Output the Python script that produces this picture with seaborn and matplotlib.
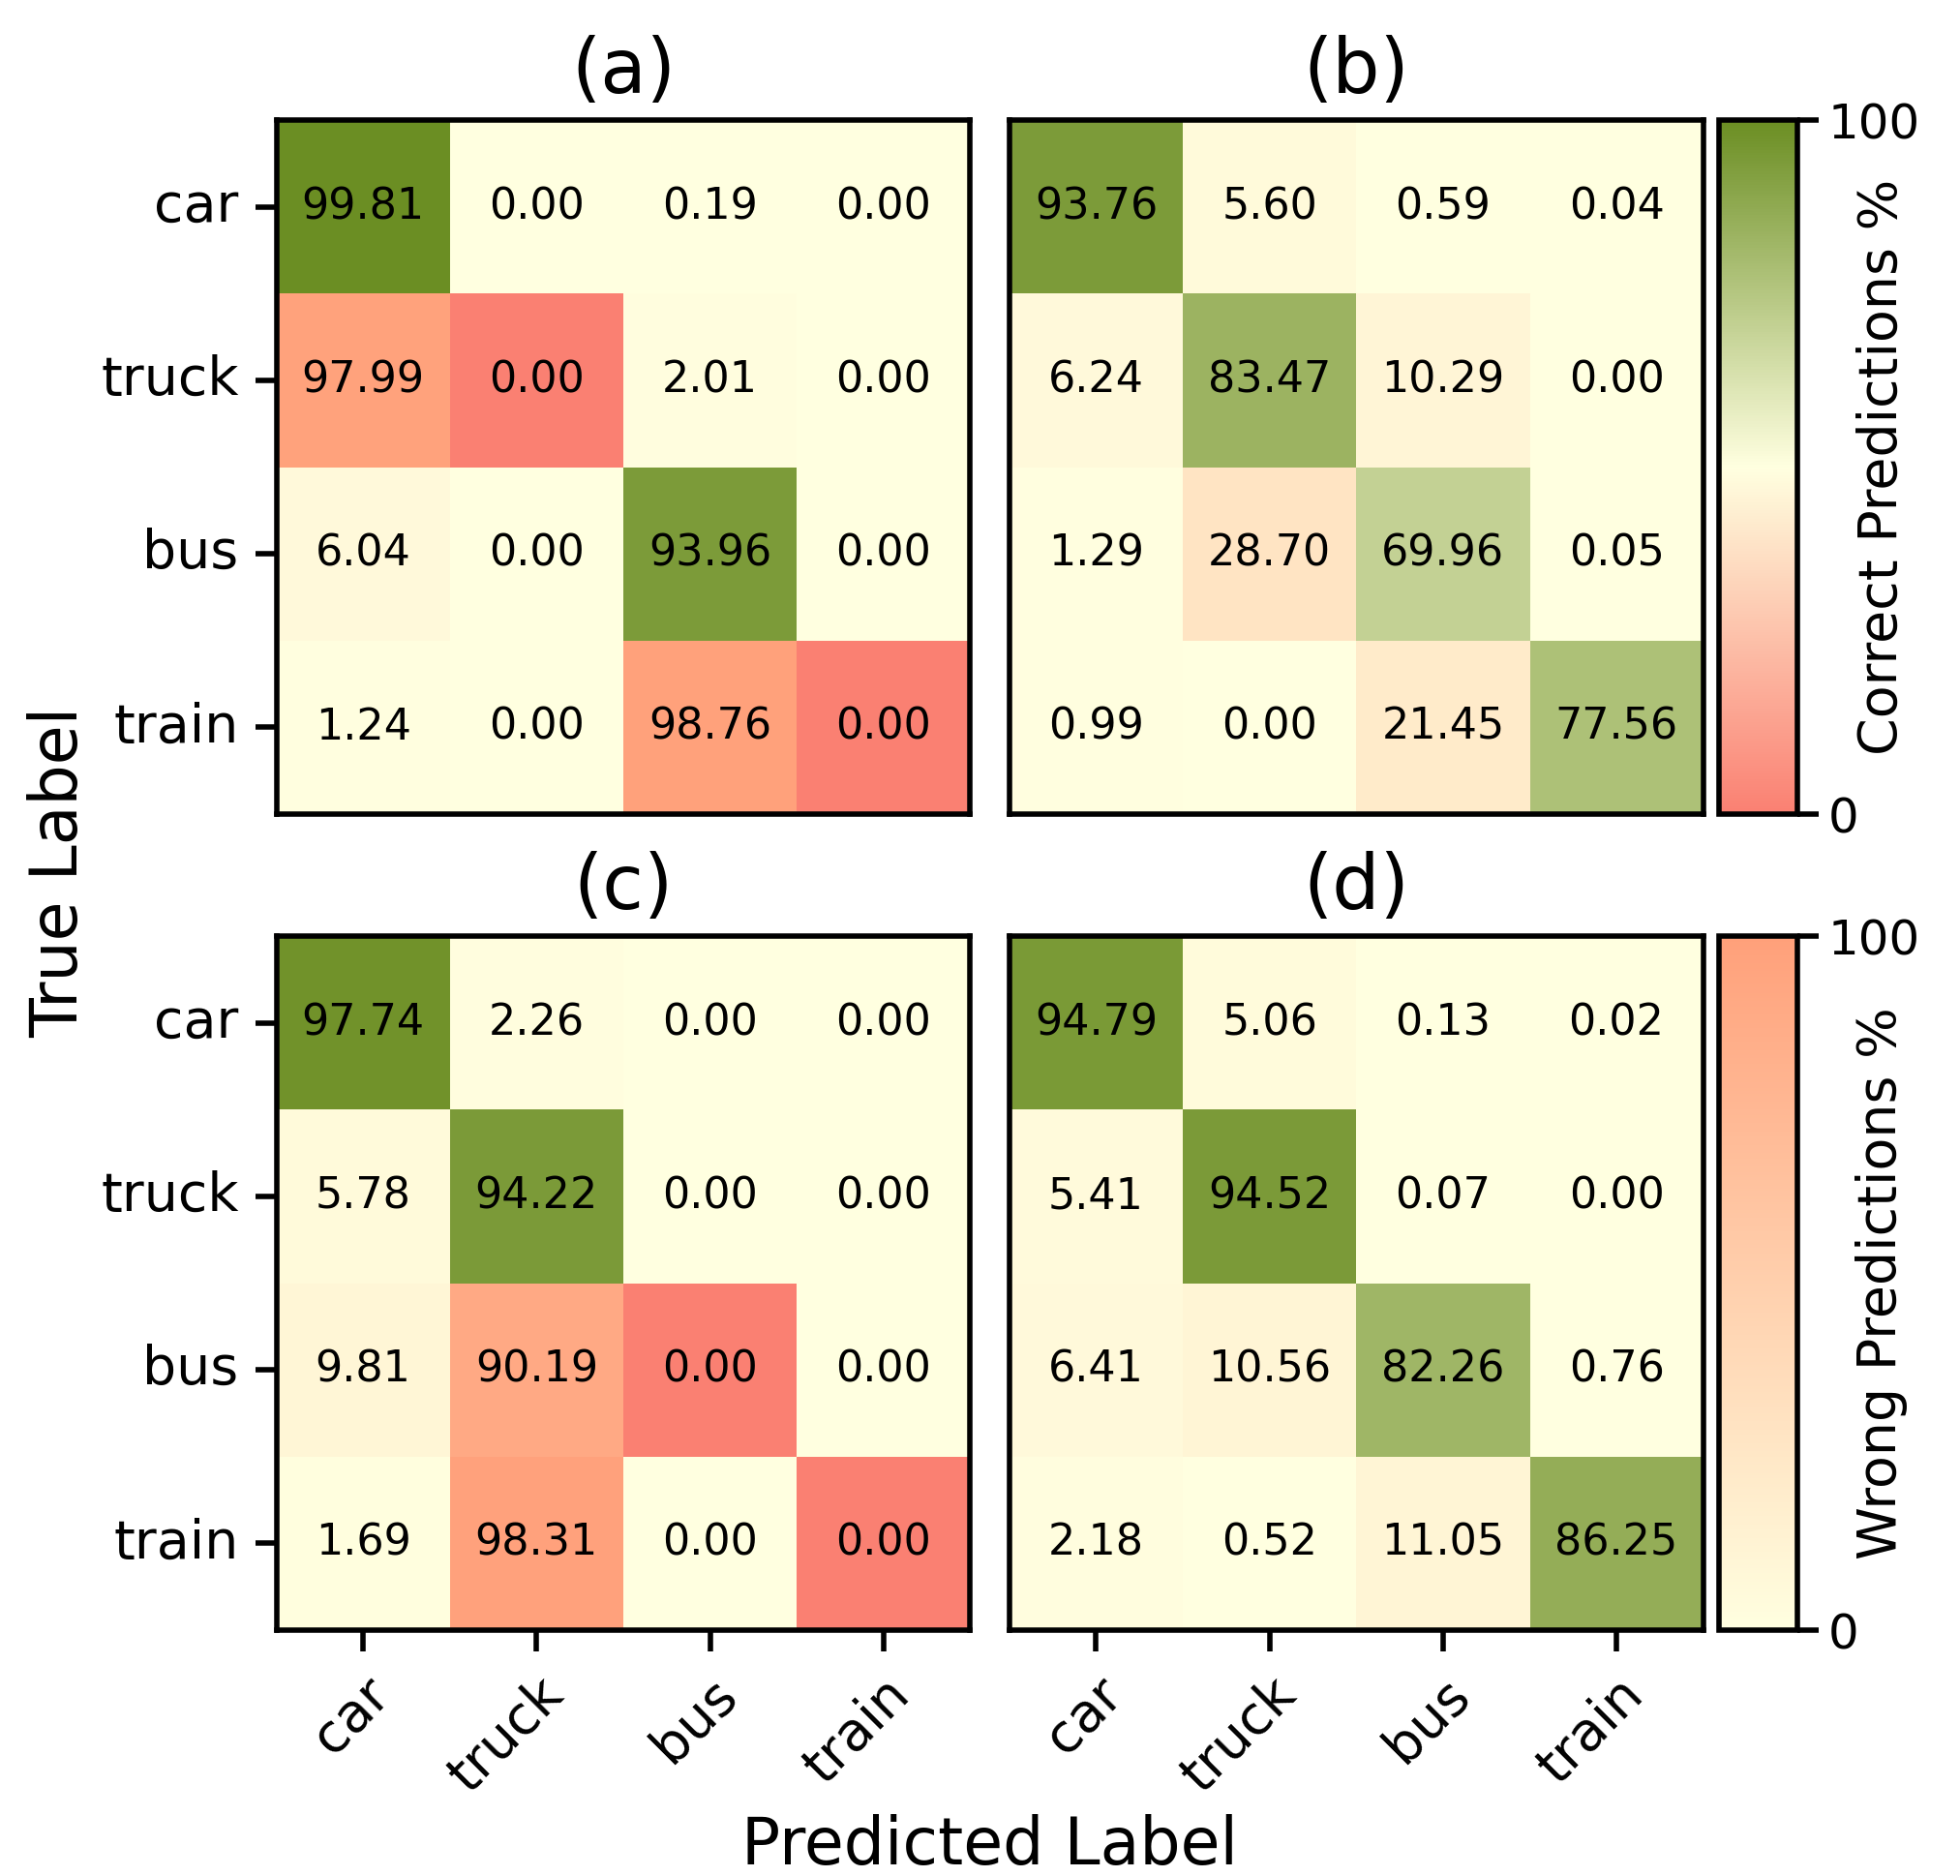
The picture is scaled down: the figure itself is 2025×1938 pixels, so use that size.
import numpy as np
import seaborn as sns
import matplotlib.pyplot as plt
from matplotlib.colors import LinearSegmentedColormap, Normalize
from matplotlib.cm import ScalarMappable

sns.set_style('ticks')
plt.rcParams['font.family'] = ['DejaVu Sans']
plt.rcParams.update({'text.color': 'black', 'axes.labelcolor': 'black',
                     'xtick.color': 'black', 'ytick.color': 'black',
                     'axes.edgecolor': 'black'})

labels = ['car', 'truck', 'bus', 'train']

cm_a = [[99.81, 0.00, 0.19, 0.00],
        [97.99, 0.00, 2.01, 0.00],
        [6.04, 0.00, 93.96, 0.00],
        [1.24, 0.00, 98.76, 0.00]]
cm_b = [[93.76, 5.60, 0.59, 0.04],
        [6.24, 83.47, 10.29, 0.00],
        [1.29, 28.70, 69.96, 0.05],
        [0.99, 0.00, 21.45, 77.56]]
cm_c = [[97.74, 2.26, 0.00, 0.00],
        [5.78, 94.22, 0.00, 0.00],
        [9.81, 90.19, 0.00, 0.00],
        [1.69, 98.31, 0.00, 0.00]]
cm_d = [[94.79, 5.06, 0.13, 0.02],
        [5.41, 94.52, 0.07, 0.00],
        [6.41, 10.56, 82.26, 0.76],
        [2.18, 0.52, 11.05, 86.25]]
titles = ['(a)', '(b)', '(c)', '(d)']

# colour maps for diagonal (correct) and off-diagonal (wrong) cells
cmap_ok = LinearSegmentedColormap.from_list('ok', ['salmon', 'lightyellow', 'olivedrab'])
cmap_bad = LinearSegmentedColormap.from_list('bad', ['lightyellow', 'lightsalmon'])

fig = plt.figure(figsize=(10.125, 9.69), dpi=200)

W, H = 0.354, 0.370
lefts = [0.141, 0.515]
bottoms = [0.566, 0.131]
lw = 2.0

mats = [cm_a, cm_b, cm_c, cm_d]
for i, m in enumerate(mats):
    r, c = divmod(i, 2)
    ax = fig.add_axes([lefts[c], bottoms[r], W, H])
    m = np.array(m)
    diag = np.eye(4, dtype=bool)
    kw = dict(annot=True, fmt='.2f', vmin=0, vmax=100, cbar=False,
              annot_kws={'size': 16, 'color': 'black'}, ax=ax,
              xticklabels=labels, yticklabels=labels)
    sns.heatmap(m, mask=~diag, cmap=cmap_ok, **kw)
    sns.heatmap(m, mask=diag, cmap=cmap_bad, **kw)
    for s in ax.spines.values():
        s.set_visible(True)
        s.set_linewidth(lw)
        s.set_color('black')
    ax.set_title(titles[i], fontsize=28, pad=10)
    ax.tick_params(length=8, width=lw, pad=6, labelsize=20, color='black')
    if r == 1:
        plt.setp(ax.get_xticklabels(), rotation=45, ha='right', rotation_mode='anchor')
    else:
        ax.set_xticks([])
    if c == 0:
        plt.setp(ax.get_yticklabels(), rotation=0)
    else:
        ax.set_yticks([])

# colour bars
for r, (cmap, lab) in enumerate([(cmap_ok, 'Correct Predictions %'),
                                  (cmap_bad, 'Wrong Predictions %')]):
    cax = fig.add_axes([0.877, bottoms[r], 0.040, H])
    cb = fig.colorbar(ScalarMappable(norm=Normalize(0, 100), cmap=cmap), cax=cax)
    cb.set_ticks([0, 100])
    cb.outline.set_linewidth(lw)
    cb.ax.tick_params(length=8, width=lw, labelsize=18)
    cb.set_label(lab, fontsize=20, labelpad=-24)

fig.text(0.03, 0.535, 'True Label', rotation=90, va='center', ha='center', fontsize=24)
fig.text(0.505, 0.016, 'Predicted Label', va='center', ha='center', fontsize=24)

plt.savefig('out.png', dpi=200)
